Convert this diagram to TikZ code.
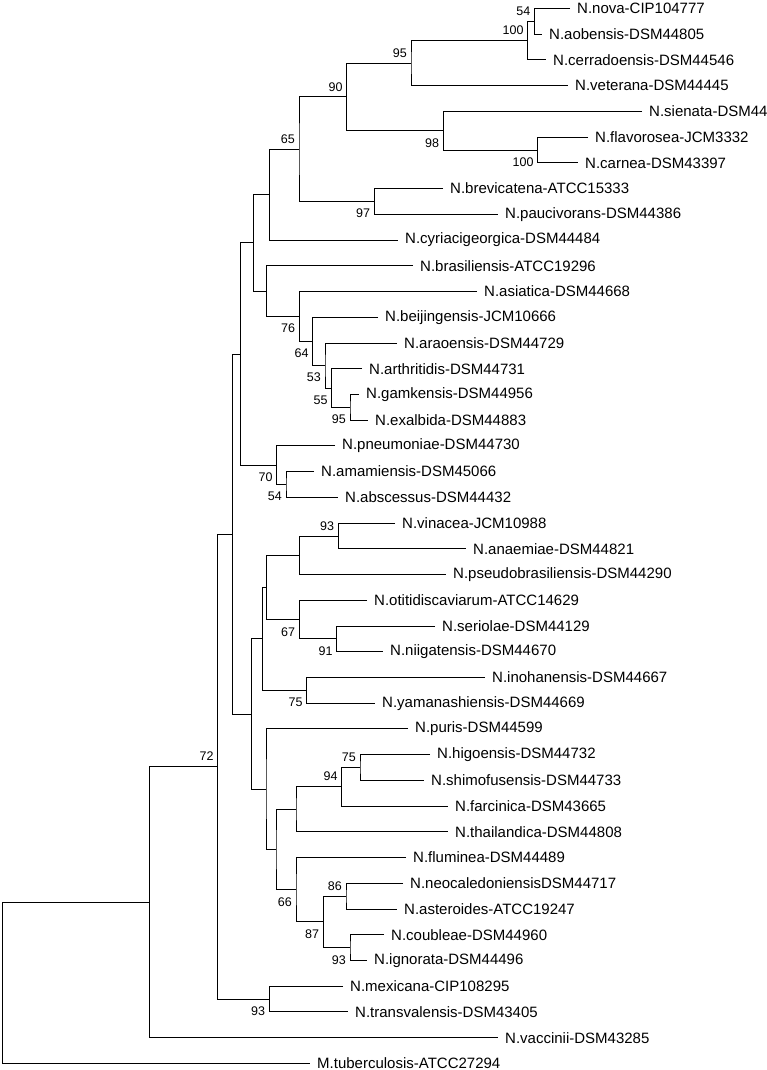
\documentclass[tikz,border=0pt]{standalone}
\usepackage{fontspec}
\setmainfont{Liberation Sans}

\begin{document}
\begin{tikzpicture}[
  x=1pt, y=-1pt,
  every node/.style={font=\fontsize{15}{16}\selectfont},
  leaf/.style={anchor=west, inner xsep=7pt, inner ysep=0pt},
  bsup/.style={font=\fontsize{12.5}{13}\selectfont, anchor=south east, inner sep=0pt, xshift=-4pt, yshift=5.5pt},
  bsdn/.style={font=\fontsize{12.5}{13}\selectfont, anchor=north east, inner sep=0pt, xshift=-4pt, yshift=-7.5pt},
  branch/.style={draw=black, line width=1pt},
]
\useasboundingbox (0,0) rectangle (766,1070);

\node[leaf] (nova) at (570, 8.5)    {N.nova-CIP104777};
\node[leaf] (aobe) at (542, 34.2)   {N.aobensis-DSM44805};
\node[leaf] (cerr) at (546, 60.0)   {N.cerradoensis-DSM44546};
\node[leaf] (vete) at (568, 85.7)   {N.veterana-DSM44445};
\node[leaf] (sien) at (642, 111.4)  {N.sienata-DSM44};
\node[leaf] (flav) at (588, 137.2)  {N.flavorosea-JCM3332};
\node[leaf] (carn) at (578, 162.9)  {N.carnea-DSM43397};
\node[leaf] (brev) at (443, 188.6)  {N.brevicatena-ATCC15333};
\node[leaf] (pauc) at (498, 214.3)  {N.paucivorans-DSM44386};
\node[leaf] (cyri) at (398, 240.1)  {N.cyriacigeorgica-DSM44484};
\node[leaf] (bras) at (413, 265.8)  {N.brasiliensis-ATCC19296};
\node[leaf] (asia) at (477, 291.5)  {N.asiatica-DSM44668};
\node[leaf] (beij) at (378, 317.3)  {N.beijingensis-JCM10666};
\node[leaf] (arao) at (397, 343.0)  {N.araoensis-DSM44729};
\node[leaf] (arth) at (362, 368.7)  {N.arthritidis-DSM44731};
\node[leaf] (gamk) at (359, 394.5)  {N.gamkensis-DSM44956};
\node[leaf] (exal) at (368, 420.2)  {N.exalbida-DSM44883};
\node[leaf] (pneu) at (335, 445.9)  {N.pneumoniae-DSM44730};
\node[leaf] (amam) at (314, 471.6)  {N.amamiensis-DSM45066};
\node[leaf] (absc) at (338, 497.4)  {N.abscessus-DSM44432};
\node[leaf] (vina) at (395, 523.1)  {N.vinacea-JCM10988};
\node[leaf] (anae) at (466, 548.8)  {N.anaemiae-DSM44821};
\node[leaf] (pseu) at (446, 574.6)  {N.pseudobrasiliensis-DSM44290};
\node[leaf] (otit) at (367, 600.3)  {N.otitidiscaviarum-ATCC14629};
\node[leaf] (seri) at (435, 626.0)  {N.seriolae-DSM44129};
\node[leaf] (niig) at (383, 651.8)  {N.niigatensis-DSM44670};
\node[leaf] (inoh) at (485, 677.5)  {N.inohanensis-DSM44667};
\node[leaf] (yama) at (375, 703.2)  {N.yamanashiensis-DSM44669};
\node[leaf] (puri) at (408, 728.9)  {N.puris-DSM44599};
\node[leaf] (higo) at (430, 754.7)  {N.higoensis-DSM44732};
\node[leaf] (shim) at (424, 780.4)  {N.shimofusensis-DSM44733};
\node[leaf] (farc) at (448, 806.1)  {N.farcinica-DSM43665};
\node[leaf] (thai) at (448, 831.9)  {N.thailandica-DSM44808};
\node[leaf] (flum) at (406, 857.6)  {N.fluminea-DSM44489};
\node[leaf] (neoc) at (403, 883.3)  {N.neocaledoniensisDSM44717};
\node[leaf] (aste) at (397, 909.0)  {N.asteroides-ATCC19247};
\node[leaf] (coub) at (384, 934.8)  {N.coubleae-DSM44960};
\node[leaf] (igno) at (367, 960.5)  {N.ignorata-DSM44496};
\node[leaf] (mexi) at (343, 986.2)  {N.mexicana-CIP108295};
\node[leaf] (tran) at (348, 1011.9) {N.transvalensis-DSM43405};
\node[leaf] (vacc) at (498, 1037.7) {N.vaccinii-DSM43285};
\node[leaf] (mtub) at (310, 1063.4) {M.tuberculosis-ATCC27294};

\coordinate (n1)  at (534.5, 21.4);
\coordinate (n2)  at (527.7, 40.7);
\coordinate (n3)  at (411.0, 63.2);
\coordinate (n4)  at (537.7, 150.1);
\coordinate (n5)  at (443.3, 130.7);
\coordinate (n6)  at (346.7, 97.0);
\coordinate (n7)  at (374.3, 201.5);
\coordinate (n8)  at (299.0, 149.2);
\coordinate (n9)  at (269.3, 194.7);
\coordinate (n10) at (350.0, 407.4);
\coordinate (n11) at (331.7, 388.0);
\coordinate (n12) at (325.0, 365.5);
\coordinate (n13) at (312.7, 341.4);
\coordinate (n14) at (299.3, 316.5);
\coordinate (n15) at (266.7, 291.1);
\coordinate (n16) at (253.3, 242.9);
\coordinate (n17) at (286.0, 484.5);
\coordinate (n18) at (276.7, 465.2);
\coordinate (n19) at (240.7, 354.1);
\coordinate (n20) at (338.3, 536.0);
\coordinate (n21) at (299.3, 555.3);
\coordinate (n22) at (336.7, 638.9);
\coordinate (n23) at (299.3, 619.6);
\coordinate (n24) at (266.7, 587.5);
\coordinate (n25) at (306.7, 690.4);
\coordinate (n26) at (262.3, 638.9);
\coordinate (n27) at (360.0, 767.6);
\coordinate (n28) at (341.7, 786.8);
\coordinate (n29) at (296.0, 809.4);
\coordinate (n30) at (346.0, 896.2);
\coordinate (n31) at (350.0, 947.7);
\coordinate (n32) at (323.3, 921.9);
\coordinate (n33) at (296.0, 889.8);
\coordinate (n34) at (276.0, 849.6);
\coordinate (n35) at (266.0, 789.2);
\coordinate (n36) at (251.7, 714.1);
\coordinate (n37) at (232.7, 534.1);
\coordinate (n38) at (269.3, 999.1);
\coordinate (n39) at (217.7, 766.6);
\coordinate (n40) at (149.3, 902.1);
\coordinate (n41) at (2.3, 982.8);

\draw[branch] (nova.west) -| (n1) |- (aobe.west);
\draw[branch] (n1) -| (n2) |- (cerr.west);
\draw[branch] (n2) -| (n3) |- (vete.west);
\draw[branch] (flav.west) -| (n4) |- (carn.west);
\draw[branch] (sien.west) -| (n5) |- (n4);
\draw[branch] (n3) -| (n6) |- (n5);
\draw[branch] (brev.west) -| (n7) |- (pauc.west);
\draw[branch] (n6) -| (n8) |- (n7);
\draw[branch] (n8) -| (n9) |- (cyri.west);
\draw[branch] (gamk.west) -| (n10) |- (exal.west);
\draw[branch] (arth.west) -| (n11) |- (n10);
\draw[branch] (arao.west) -| (n12) |- (n11);
\draw[branch] (beij.west) -| (n13) |- (n12);
\draw[branch] (asia.west) -| (n14) |- (n13);
\draw[branch] (bras.west) -| (n15) |- (n14);
\draw[branch] (n9) -| (n16) |- (n15);
\draw[branch] (amam.west) -| (n17) |- (absc.west);
\draw[branch] (pneu.west) -| (n18) |- (n17);
\draw[branch] (n16) -| (n19) |- (n18);
\draw[branch] (vina.west) -| (n20) |- (anae.west);
\draw[branch] (n20) -| (n21) |- (pseu.west);
\draw[branch] (seri.west) -| (n22) |- (niig.west);
\draw[branch] (otit.west) -| (n23) |- (n22);
\draw[branch] (n21) -| (n24) |- (n23);
\draw[branch] (inoh.west) -| (n25) |- (yama.west);
\draw[branch] (n24) -| (n26) |- (n25);
\draw[branch] (higo.west) -| (n27) |- (shim.west);
\draw[branch] (n27) -| (n28) |- (farc.west);
\draw[branch] (n28) -| (n29) |- (thai.west);
\draw[branch] (neoc.west) -| (n30) |- (aste.west);
\draw[branch] (coub.west) -| (n31) |- (igno.west);
\draw[branch] (n30) -| (n32) |- (n31);
\draw[branch] (flum.west) -| (n33) |- (n32);
\draw[branch] (n29) -| (n34) |- (n33);
\draw[branch] (puri.west) -| (n35) |- (n34);
\draw[branch] (n26) -| (n36) |- (n35);
\draw[branch] (n19) -| (n37) |- (n36);
\draw[branch] (mexi.west) -| (n38) |- (tran.west);
\draw[branch] (n37) -| (n39) |- (n38);
\draw[branch] (n39) -| (n40) |- (vacc.west);
\draw[branch] (n40) -| (n41) |- (mtub.west);

\node[bsup] (b1)  at (n1)  {54};
\node[bsup] (b2)  at (n2)  {100};
\node[bsup] (b3)  at (n3)  {95};
\node[bsdn] (b4)  at (n4)  {100};
\node[bsdn] (b5)  at (n5)  {98};
\node[bsup] (b6)  at (n6)  {90};
\node[bsdn] (b7)  at (n7)  {97};
\node[bsup] (b8)  at (n8)  {65};
\node[bsdn] (b10) at (n10) {95};
\node[bsdn] (b11) at (n11) {55};
\node[bsdn] (b12) at (n12) {53};
\node[bsdn] (b13) at (n13) {64};
\node[bsdn] (b14) at (n14) {76};
\node[bsdn] (b17) at (n17) {54};
\node[bsdn] (b18) at (n18) {70};
\node[bsup] (b20) at (n20) {93};
\node[bsdn] (b22) at (n22) {91};
\node[bsdn] (b23) at (n23) {67};
\node[bsdn] (b25) at (n25) {75};
\node[bsup] (b27) at (n27) {75};
\node[bsup] (b28) at (n28) {94};
\node[bsup] (b30) at (n30) {86};
\node[bsdn] (b31) at (n31) {93};
\node[bsdn] (b32) at (n32) {87};
\node[bsdn] (b33) at (n33) {66};
\node[bsdn] (b38) at (n38) {93};
\node[bsup] (b39) at (n39) {72};
\end{tikzpicture}
\end{document}
